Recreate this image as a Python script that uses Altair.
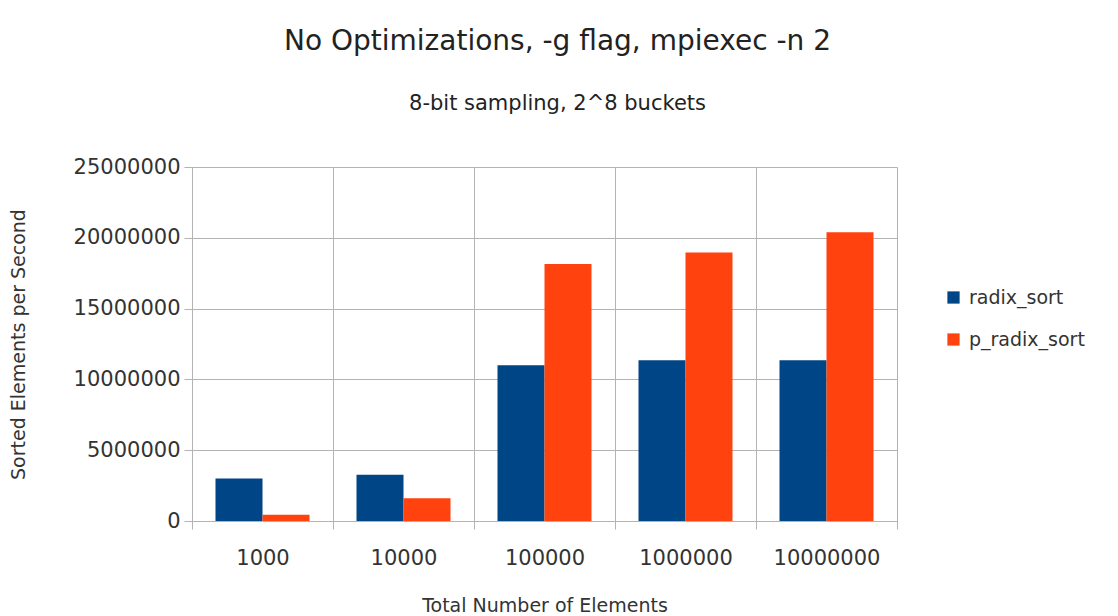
import altair as alt
import pandas as pd

categories = ["1000", "10000", "100000", "1000000", "10000000"]
radix_sort = [3000000, 3270000, 11000000, 11350000, 11350000]
p_radix_sort = [440000, 1600000, 18150000, 18970000, 20390000]
series = ["radix_sort", "p_radix_sort"]
colors = ["#004586", "#ff420e"]

rows = []
for c, a, b in zip(categories, radix_sort, p_radix_sort):
    rows.append({"n": c, "series": "radix_sort", "value": a})
    rows.append({"n": c, "series": "p_radix_sort", "value": b})
df = pd.DataFrame(rows)

FONT = "DejaVu Sans"
TXT = "#333333"
GRID = "#b3b3b3"

chart = alt.Chart(df).mark_bar().encode(
    x=alt.X("n:N", sort=categories,
            scale=alt.Scale(paddingInner=0, paddingOuter=0),
            axis=alt.Axis(title="Total Number of Elements", labelAngle=0, tickBand="extent",
                          grid=True, gridColor=GRID, domainColor=GRID,
                          tickColor=GRID, tickSize=8, labelPadding=18,
                          titlePadding=28, labelFontSize=21, titleFontSize=19,
                          labelFont=FONT, titleFont=FONT, labelColor=TXT,
                          titleColor=TXT, titleFontWeight="normal")),
    xOffset=alt.XOffset("series:N", sort=series,
                        scale=alt.Scale(paddingInner=0, paddingOuter=0.5)),
    y=alt.Y("value:Q", scale=alt.Scale(domain=[0, 25000000]),
            axis=alt.Axis(title="Sorted Elements per Second",
                          values=[0, 5000000, 10000000, 15000000, 20000000, 25000000],
                          format="d", gridColor=GRID, domainColor=GRID,
                          tickColor=GRID, tickSize=8, labelPadding=4,
                          titlePadding=45, labelFontSize=21, titleFontSize=19,
                          labelFont=FONT, titleFont=FONT, labelColor=TXT,
                          titleColor=TXT, titleFontWeight="normal")),
    color=alt.Color("series:N", sort=series,
                    scale=alt.Scale(domain=series, range=colors),
                    legend=alt.Legend(title=None, orient="none", legendX=752, legendY=121,
                                      symbolType="square", symbolSize=150,
                                      symbolStrokeWidth=0, labelFontSize=19,
                                      labelFont=FONT, labelColor=TXT,
                                      rowPadding=22, labelOffset=6)),
).properties(
    width=705,
    height=354,
    background="white",
    title=alt.TitleParams(
        text="No Optimizations, -g flag, mpiexec -n 2",
        subtitle="8-bit sampling, 2^8 buckets",
        fontSize=28, subtitleFontSize=21, font=FONT, subtitleFont=FONT,
        fontWeight="normal", color="#222222", subtitleColor="#222222",
        anchor="middle", dx=13, subtitlePadding=37, offset=42,
    ),
    padding={"left": 9, "top": 28, "right": 8, "bottom": 4},
).configure_view(
    stroke=None
)

chart.save("out.html", embed_options={"renderer": "svg", "actions": False})
